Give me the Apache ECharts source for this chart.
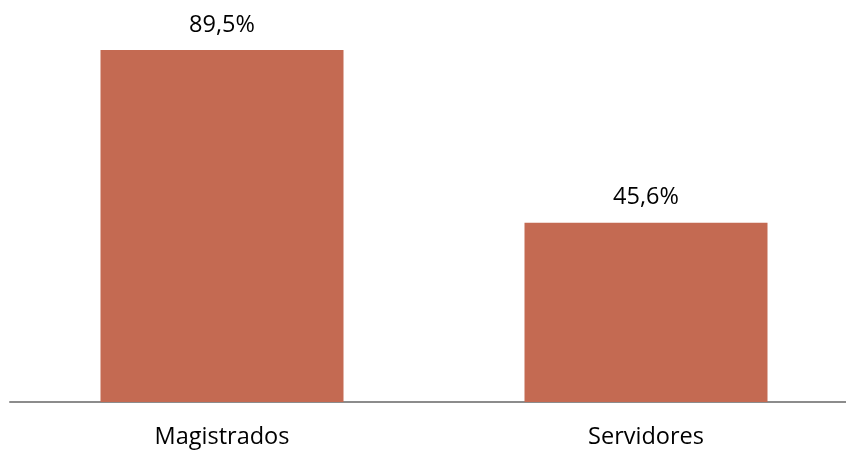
<!DOCTYPE html>
<html>
<head>
<meta charset="utf-8">
<script src="https://cdn.jsdelivr.net/npm/echarts@6/dist/echarts.min.js"></script>
<style>html,body{margin:0;padding:0;background:#fff;}#c{width:846px;height:450px;}</style>
</head>
<body>
<div id="c"></div>
<script>
const categories = ['Magistrados', 'Servidores'];
const values = [89.5, 45.6];

const chart = echarts.init(document.getElementById('c'));
chart.setOption({
  animation: false,
  grid: { left: 10, right: -12, top: 8.7, bottom: 48, containLabel: false, outerBoundsMode: 'none' },
  xAxis: {
    type: 'category',
    data: categories,
    axisLine: { show: true, lineStyle: { color: '#8c8c8c', width: 2 } },
    axisTick: { show: false },
    axisLabel: { color: '#000', fontFamily: 'Open Sans', fontSize: 23.5, margin: 23 }
  },
  yAxis: { type: 'value', min: 0, max: 100, show: false, splitLine: { show: false } },
  series: [{
    type: 'bar',
    data: values,
    barWidth: 243,
    itemStyle: { color: '#C46A52' },
    label: {
      show: true, position: 'top', distance: 13,
      color: '#000', fontFamily: 'Open Sans', fontSize: 23.5,
      formatter: p => p.value.toFixed(1).replace('.', ',') + '%'
    }
  }]
});
</script>
</body>
</html>
